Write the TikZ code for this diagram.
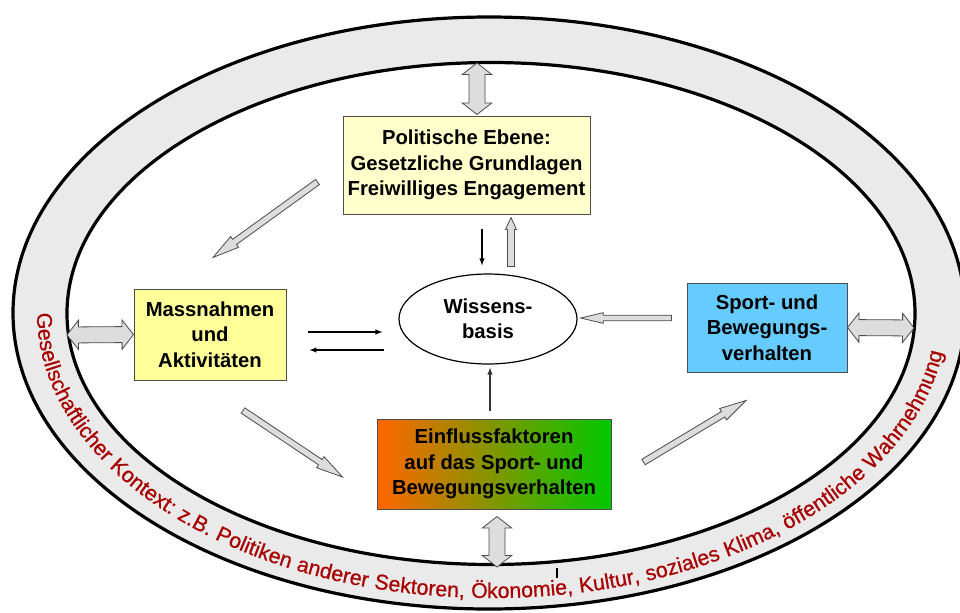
\documentclass[tikz,border=0pt]{standalone}
\usepackage{fontspec}
\setmainfont{Liberation Sans}
\newfontfamily\ringfamily[FakeBold=0.6]{Liberation Sans}
\usetikzlibrary{calc,shapes.geometric,decorations.text}

\definecolor{polyellow}{HTML}{FFFFCC}
\definecolor{massyellow}{HTML}{FFFF99}
\definecolor{sportblue}{HTML}{66CCFF}
\definecolor{einflorange}{HTML}{FF6600}
\definecolor{einflgreen}{HTML}{00C800}
\definecolor{ringgray}{HTML}{EAEAEA}
\definecolor{arrowgray}{HTML}{DDDDDD}
\definecolor{ringred}{HTML}{A80000}

\newcommand{\boxfont}{\bfseries\fontsize{15.2}{19}\selectfont}
\newcommand{\ringfont}{\ringfamily\fontsize{16}{19}\selectfont\color{ringred}}

% fat arrow: from, to, shaft half width, head half width, head length
\newcommand{\fatarrow}[5]{%
  \coordinate (fa1) at (#1);
  \coordinate (fa2) at (#2);
  \coordinate (fah) at ($(fa2)!#5!(fa1)$);
  \draw[fatline] ($(fa1)!#3!90:(fa2)$) -- ($(fah)!#3!90:(fa2)$) -- ($(fah)!#4!90:(fa2)$) -- (fa2)
    -- ($(fah)!#4!-90:(fa2)$) -- ($(fah)!#3!-90:(fa2)$) -- ($(fa1)!#3!-90:(fa2)$) -- cycle;}
% fat double arrow, same arguments
\newcommand{\fatdarrow}[5]{%
  \coordinate (fda) at (#1);
  \coordinate (fdb) at (#2);
  \coordinate (fdh1) at ($(fda)!#5!(fdb)$);
  \coordinate (fdh2) at ($(fdb)!#5!(fda)$);
  \draw[fatline] (fda) -- ($(fdh1)!#4!90:(fdb)$) -- ($(fdh1)!#3!90:(fdb)$) -- ($(fdh2)!#3!-90:(fda)$)
    -- ($(fdh2)!#4!-90:(fda)$) -- (fdb) -- ($(fdh2)!#4!90:(fda)$) -- ($(fdh2)!#3!90:(fda)$)
    -- ($(fdh1)!#3!-90:(fdb)$) -- ($(fdh1)!#4!-90:(fdb)$) -- cycle;}

\begin{document}
\begin{tikzpicture}[x=0.75pt,y=-0.75pt,>=latex,
  box/.style={draw=black!70,line width=0.75pt,align=center,font=\boxfont,inner sep=0pt},
  fatline/.style={draw=black!70,fill=arrowgray,line width=0.6pt,line join=miter},
  thinarrow/.style={->,line width=0.8pt}]

\useasboundingbox (0,0) rectangle (960,612);

\begin{scope}
\clip (0,0) rectangle (960,612);
% context ring
\draw[line width=2.4pt,fill=ringgray] (489,313) ellipse [x radius=357pt, y radius=222pt];
\draw[line width=2.4pt,fill=white] (491,313.5) ellipse [x radius=318pt, y radius=188.25pt];
\draw[line width=0.8pt] (557,568) -- (557,578);
\end{scope}

\path[decorate,decoration={text along path,text align={fit to path stretching spaces},
  text={|\ringfont|Gesellschaftlicher Kontext: z.B. Politiken anderer Sektoren, Ökonomie, Kultur, soziales Klima, öffentliche Wahrnehmung}}]
  (492,313) ++(180:341.25pt and 213.75pt) arc [start angle=180, end angle=352, x radius=341.25pt, y radius=213.75pt];

% ring touch points
\coordinate (ringtop) at (477,63);
\coordinate (ringleft) at (67,335);
\coordinate (ringright) at (914,328);
\coordinate (ringbottom) at (497,567);

\node[box,fill=polyellow,minimum width=185.25pt,minimum height=73.5pt] (pol) at (466.5,165)
  {Politische Ebene:\\Gesetzliche Grundlagen\\Freiwilliges Engagement};
\node[box,fill=massyellow,minimum width=114pt,minimum height=68.25pt] (mass) at (210,334.5)
  {Massnahmen\\und\\Aktivitäten};
\node[draw,ellipse,line width=0.9pt,fill=white,align=center,font=\boxfont,inner sep=0pt,
  minimum width=133.5pt,minimum height=67.5pt] (wissen) at (488,319) {Wissens-\\basis};
\node[box,fill=sportblue,minimum width=120pt,minimum height=66.75pt] (sport) at (767,327.5)
  {Sport- und\\Bewegungs-\\verhalten};
\node[box,left color=einflorange,right color=einflgreen,minimum width=175.5pt,minimum height=67.5pt]
  (einfl) at (494,464) {Einflussfaktoren\\auf das Sport- und\\Bewegungsverhalten};

% links to the ring
\fatdarrow{$(pol.north)+(10.5,-1)$}{ringtop}{6pt}{11pt}{8.6pt}
\fatdarrow{ringleft}{mass.west}{6pt}{11pt}{8.6pt}
\fatdarrow{sport.east}{ringright}{6pt}{11pt}{8.6pt}
\fatdarrow{$(einfl.south)+(3,7)$}{ringbottom}{6pt}{11pt}{8.6pt}

% inner flows
\fatarrow{$(pol.west)+(-25,17)$}{$(mass.north)+(3,-31)$}{2.4pt}{5pt}{20pt}
\fatarrow{$(mass.south)+(33,30)$}{$(einfl.west)+(-34,13)$}{2.4pt}{5pt}{20pt}
\fatarrow{$(einfl.east)+(32,-2)$}{$(sport.south)+(-21,28)$}{2.4pt}{5pt}{20pt}
\fatarrow{$(sport.west)+(-15,-9.5)$}{$(wissen.east)+(3,-1)$}{2.1pt}{4pt}{17pt}
\fatarrow{$(wissen.north)+(23,-7)$}{$(pol.south)+(44.5,3)$}{2.6pt}{4.1pt}{9pt}

\draw[thinarrow] ($(pol.south)+(15.5,14)$) -- ($(wissen.north)+(-6,-8)$);
\draw[thinarrow,black!80] ($(einfl.north)+(-4,-8)$) -- ($(wissen.south)+(2,3)$);
\draw[thinarrow] ($(mass.east)+(21,-2.5)$) -- ($(wissen.west)+(-16,13)$);
\draw[thinarrow] ($(wissen.west)+(-14,31)$) -- ($(mass.east)+(23,15.5)$);

\end{tikzpicture}
\end{document}
